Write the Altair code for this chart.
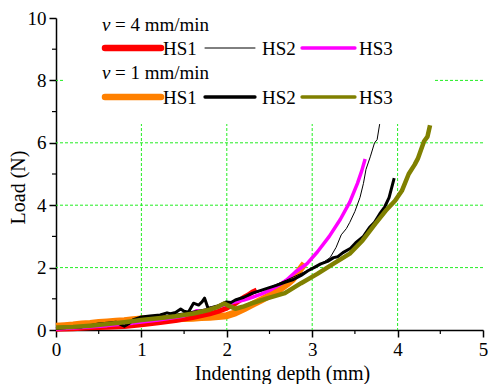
import altair as alt
import pandas as pd

# ---------------- data ----------------
v4_hs1_x = [0, 0.2, 0.4, 0.6, 0.8, 1.0, 1.2, 1.4, 1.6, 1.8, 1.9, 2.0, 2.1, 2.15, 2.2, 2.25, 2.3, 2.35]
v4_hs1_y = [0.02, 0.04, 0.07, 0.09, 0.11, 0.17, 0.23, 0.3, 0.4, 0.52, 0.6, 0.7, 0.85, 0.95, 1.05, 1.12, 1.22, 1.28]

v4_hs2_x = [0, 0.3, 0.6, 0.9, 1.2, 1.5, 1.8, 2.1, 2.4, 2.7, 2.9, 3.04, 3.12, 3.21, 3.28, 3.34, 3.4, 3.44,
            3.5, 3.56, 3.6, 3.63, 3.68, 3.73, 3.76, 3.79]
v4_hs2_y = [0.05, 0.12, 0.2, 0.3, 0.42, 0.55, 0.7, 0.95, 1.25, 1.6, 1.85, 2.0, 2.15, 2.32, 2.65, 3.05, 3.25, 3.45,
            3.8, 4.25, 4.7, 5.15, 5.55, 6.0, 6.1, 6.6]

v4_hs3_x = [0, 0.3, 0.6, 0.9, 1.2, 1.5, 1.6, 1.65, 1.7, 1.8, 1.9, 2.0, 2.1, 2.2, 2.3, 2.4, 2.5, 2.6, 2.7,
            2.8, 2.94, 3.06, 3.2, 3.33, 3.44, 3.53, 3.58, 3.62]
v4_hs3_y = [0.03, 0.08, 0.14, 0.22, 0.32, 0.45, 0.55, 0.62, 0.58, 0.68, 0.75, 0.82, 0.9, 0.96, 1.05, 1.15, 1.27,
            1.42, 1.6, 1.85, 2.13, 2.5, 3.0, 3.55, 4.1, 4.7, 5.1, 5.48]

v1_hs1_x = [0, 0.1, 0.2, 0.3, 0.4, 0.5, 0.6, 0.7, 0.8, 0.9, 1.0, 1.1, 1.2, 1.3, 1.4, 1.5, 1.6, 1.7, 1.8, 1.9,
            2.0, 2.1, 2.2, 2.3, 2.4, 2.5, 2.56, 2.62, 2.68, 2.72, 2.77, 2.82, 2.87, 2.91]
v1_hs1_y = [0.12, 0.14, 0.16, 0.19, 0.21, 0.24, 0.26, 0.28, 0.3, 0.33, 0.35, 0.36, 0.36, 0.37, 0.36, 0.37, 0.38,
            0.4, 0.41, 0.43, 0.46, 0.55, 0.68, 0.82, 0.96, 1.1, 1.22, 1.3, 1.42, 1.5, 1.62, 1.8, 1.98, 2.13]

v1_hs2_x = [0, 0.1, 0.2, 0.3, 0.4, 0.5, 0.6, 0.7, 0.8, 0.85, 0.9, 1.0, 1.1, 1.22, 1.3, 1.34, 1.4, 1.46, 1.5,
            1.55, 1.61, 1.67, 1.71, 1.74, 1.78, 1.83, 1.88, 1.94, 1.99, 2.05, 2.1, 2.2, 2.3, 2.4, 2.48, 2.58,
            2.68, 2.78, 2.87, 2.95, 3.02, 3.1, 3.18, 3.25, 3.3, 3.36, 3.45, 3.51, 3.6, 3.67, 3.73, 3.79, 3.85,
            3.9, 3.96]
v1_hs2_y = [0.05, 0.07, 0.1, 0.1, 0.14, 0.19, 0.22, 0.25, 0.12, 0.2, 0.32, 0.42, 0.45, 0.48, 0.55, 0.52, 0.56,
            0.67, 0.6, 0.57, 0.86, 0.8, 0.9, 1.02, 0.7, 0.72, 0.76, 0.82, 0.9, 0.88, 0.96, 1.05, 1.18, 1.27,
            1.34, 1.43, 1.53, 1.62, 1.75, 1.9, 2.0, 2.12, 2.2, 2.32, 2.35, 2.48, 2.62, 2.8, 3.0, 3.28, 3.45,
            3.72, 3.95, 4.24, 4.87]

v1_hs3_x = [0, 0.2, 0.4, 0.6, 0.8, 1.0, 1.2, 1.4, 1.61, 1.8, 1.9, 1.97, 2.02, 2.1, 2.2, 2.3, 2.48, 2.68,
            2.87, 3.06, 3.25, 3.44, 3.59, 3.74, 3.86, 3.97, 4.05, 4.13, 4.2, 4.24, 4.31, 4.35, 4.38]
v1_hs3_y = [0.08, 0.1, 0.14, 0.19, 0.25, 0.32, 0.38, 0.44, 0.53, 0.65, 0.75, 0.85, 0.78, 0.68, 0.76, 0.86,
            1.02, 1.18, 1.5, 1.8, 2.13, 2.45, 2.87, 3.41, 3.82, 4.14, 4.46, 5.0, 5.3, 5.51, 6.05, 6.2, 6.56]

x_ticks = [0, 1, 2, 3, 4, 5]
y_ticks = [0, 2, 4, 6, 8, 10]
x_minor = [0.5, 1.5, 2.5, 3.5, 4.5]
y_minor = [1, 3, 5, 7, 9]
x_grid = [1, 2, 3, 4]
y_grid = [2, 4, 6, 8]

FONT = "Liberation Serif, Times New Roman, Times, DejaVu Serif, serif"
W, H = 427, 312
TOP = 10  # top padding; legend offsets below are relative to the plot top

xs = alt.Scale(domain=[0, 5], nice=False, zero=False)
ys = alt.Scale(domain=[0, 10], nice=False, zero=False)

one = pd.DataFrame({"a": [0]})

# grid
vgrid = alt.Chart(pd.DataFrame({"gx": x_grid})).mark_rule(
    color="#22ee22", strokeDash=[3, 2], strokeWidth=1
).encode(x=alt.X("gx:Q", scale=xs))
hgrid = alt.Chart(pd.DataFrame({"gy": y_grid})).mark_rule(
    color="#22ee22", strokeDash=[3, 2], strokeWidth=1
).encode(y=alt.Y("gy:Q", scale=ys))

# legend background
legbg = alt.Chart(one).mark_rect(color="white").encode(
    x=alt.value(9), x2=alt.value(377), y=alt.value(0), y2=alt.value(106)
)


def series(xv, yv, color, width):
    df = pd.DataFrame({"x": xv, "y": yv, "o": list(range(len(xv)))})
    return alt.Chart(df).mark_line(color=color, strokeWidth=width, strokeJoin="round").encode(
        x=alt.X("x:Q", scale=xs,
                axis=alt.Axis(values=x_ticks, format="d", title="Indenting depth (mm)", grid=False,
                              tickSize=7, labelFlush=False, titleX=226, titleY=43,
                              titleBaseline="middle", titleAlign="center")),
        y=alt.Y("y:Q", scale=ys,
                axis=alt.Axis(values=y_ticks, format="d", title="Load (N)", grid=False, tickSize=7,
                              titleX=-38, titleY=169, titleBaseline="middle", titleAlign="center",
                              titleAngle=270)),
        order="o:Q",
    )


lines = [
    series(v1_hs1_x, v1_hs1_y, "#ff8000", 7),
    series(v4_hs1_x, v4_hs1_y, "#ff0000", 5),
    series(v4_hs3_x, v4_hs3_y, "#ff00ff", 3.5),
    series(v4_hs2_x, v4_hs2_y, "#000000", 1),
    series(v1_hs2_x, v1_hs2_y, "#000000", 3),
    series(v1_hs3_x, v1_hs3_y, "#808000", 4.5),
]

# minor ticks
xminor = alt.Chart(pd.DataFrame({"mx": x_minor})).mark_rule(color="black", strokeWidth=1.2).encode(
    x=alt.X("mx:Q", scale=xs), y=alt.value(H), y2=alt.value(H + 4)
)
yminor = alt.Chart(pd.DataFrame({"my": y_minor})).mark_rule(color="black", strokeWidth=1.2).encode(
    y=alt.Y("my:Q", scale=ys), x=alt.value(-4), x2=alt.value(0)
)

# manual legend (positions in plot pixels)
legend_rows = [
    (49, 105, 30, "#ff0000", 6.5),
    (149, 199, 30, "#000000", 1),
    (246, 299, 30, "#ff00ff", 3.3),
    (49, 105, 79, "#ff8000", 6.5),
    (149, 199, 79, "#000000", 3.3),
    (246, 299, 79, "#808000", 3.3),
]
leg_layers = []
for x1, x2, yy, c, w in legend_rows:
    leg_layers.append(
        alt.Chart(one).mark_rule(color=c, strokeWidth=w, strokeCap="round").encode(
            x=alt.value(x1), x2=alt.value(x2), y=alt.value(yy)
        )
    )

leg_texts = [
    (46, 13, "v", "italic"),
    (59, 13, "= 4 mm/min", "normal"),
    (107, 37, "HS1", "normal"),
    (206, 37, "HS2", "normal"),
    (303, 37, "HS3", "normal"),
    (46, 61, "v", "italic"),
    (59, 61, "= 1 mm/min", "normal"),
    (107, 86, "HS1", "normal"),
    (206, 86, "HS2", "normal"),
    (303, 86, "HS3", "normal"),
]
for tx, ty, t, st in leg_texts:
    leg_layers.append(
        alt.Chart(one).mark_text(
            text=t, font=FONT, fontSize=19, fontStyle=st, align="left", baseline="alphabetic",
            color="black"
        ).encode(x=alt.value(tx), y=alt.value(ty))
    )

chart = alt.layer(vgrid, hgrid, legbg, *lines, xminor, yminor, *leg_layers).properties(
    width=W, height=H,
    autosize=alt.AutoSizeParams(type="none"),
    padding={"left": 48, "top": TOP, "right": 5, "bottom": 54},
).configure_view(stroke=None).configure_axis(
    labelFont=FONT, titleFont=FONT, labelFontSize=19, titleFontSize=20,
    titleFontWeight="normal", labelColor="black", titleColor="black",
    domainColor="black", tickColor="black", domainWidth=1.5, tickWidth=1.5,
    labelPadding=3, labelOverlap=False,
)

chart.save("out.html", embed_options={"renderer": "svg", "actions": False})
